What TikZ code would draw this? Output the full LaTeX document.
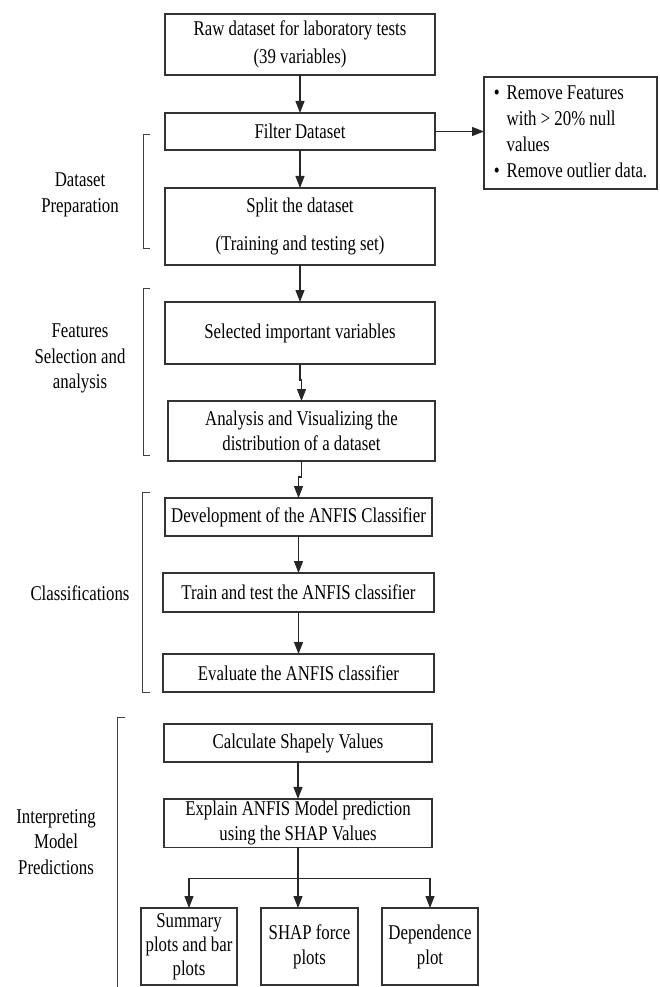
\documentclass[tikz,border=0pt]{standalone}
\usepackage{fontspec}
\setmainfont{Liberation Serif}[FakeStretch=0.8]
\usetikzlibrary{arrows.meta}
\begin{document}
\begin{tikzpicture}[x=1pt,y=-1pt,
  box/.style={draw=black!80, line width=1.1pt, fill=white, inner sep=2pt, outer sep=0pt, align=center, font=\fontsize{21}{25}\selectfont},
  lbl/.style={align=center, font=\fontsize{21}{25.5}\selectfont, inner sep=0pt},
  arr/.style={draw=black!85, line width=1.1pt, -{Triangle[length=12pt,width=9pt]}},
  conn/.style={draw=black!85, line width=1.1pt},
  brk/.style={draw=black!75, line width=1pt}]
\useasboundingbox (0,0) rectangle (659,987);

% main column
\node[box, minimum width=270pt, minimum height=61pt] (raw) at (300,44.5) {Raw dataset for laboratory tests\\[3pt](39 variables)};
\node[box, minimum width=270pt, minimum height=37pt] (filter) at (300,131.5) {Filter Dataset};
\node[box, minimum width=270pt, minimum height=77pt] (split) at (300,226.5) {Split the dataset\\[13pt](Training and testing set)};
\node[box, minimum width=270pt, minimum height=62pt] (sel) at (300,333) {Selected important variables};
\node[box, minimum width=267pt, minimum height=60pt] (ana) at (301.5,431) {Analysis and Visualizing the\\distribution of a dataset};
\node[box, minimum width=267pt, minimum height=38pt] (dev) at (298.5,517) {Development of the ANFIS Classifier};
\node[box, minimum width=271pt, minimum height=39pt] (train) at (298.5,592.5) {Train and test the ANFIS classifier};
\node[box, minimum width=271pt, minimum height=38pt] (eval) at (298.5,673) {Evaluate the ANFIS classifier};
\node[box, minimum width=268pt, minimum height=38pt] (shap) at (298,743) {Calculate Shapely Values};
\node[box, minimum width=268pt, minimum height=48pt] (expl) at (298,823) {Explain ANFIS Model prediction\\using the SHAP Values};

% bottom boxes
\node[box, minimum width=96pt, minimum height=77pt, font=\fontsize{21}{24}\selectfont] (summ) at (189,946.5) {Summary\\plots and bar\\plots};
\node[box, minimum width=97pt, minimum height=77pt] (force) at (309.5,946.5) {SHAP force\\plots};
\node[box, minimum width=96pt, minimum height=77pt] (dep) at (430,946.5) {Dependence\\plot};

% side box
\node[box, minimum width=173pt, minimum height=112pt, font=\fontsize{21}{26}\selectfont] (bul) at (570.5,133)
  {\begin{tabular}{@{}c@{\hspace{7pt}}l@{}}
   \textbullet & Remove Features\\
               & with > 20\% null\\
               & values\\
   \textbullet & Remove outlier data.
   \end{tabular}};

% section labels
\node[lbl] (lprep) at (80,195) {Dataset\\Preparation};
\node[lbl] (lfeat) at (80,358.5) {Features\\Selection and\\analysis};
\node[lbl] (lcls) at (80,593) {Classifications};
\node[lbl] (lint) at (56,842) {Interpreting\\Model\\Predictions};

% brackets
\draw[brk] (150,135) -- (143,135) -- (143,248) -- (150,248);
\draw[brk] (150,288) -- (143,288) -- (143,455) -- (150,455);
\draw[brk] (150,492) -- (142,492) -- (142,692) -- (150,692);
\draw[brk] (125,717) -- (117,717) -- (117,987);

% connectors
\draw[arr] (raw.south) -- (filter.north);
\draw[arr] (filter.east) -- (filter.east -| bul.west);
\draw[arr] (filter.south) -- (split.north);
\draw[arr] (split.south) -- (sel.north);
\draw[arr] (sel.south) -- ++(0,16) -| (ana.north);
\draw[arr] (ana.south) -- ++(0,16) -| (dev.north);
\draw[arr] (dev.south) -- (train.north);
\draw[arr] (train.south) -- (eval.north);
\draw[arr] (shap.south) -- (expl.north);
\draw[conn] (expl.south) -- ++(0,31) coordinate (hub);
\draw[arr] (hub) -| (summ.north);
\draw[arr] (hub) -- (hub |- force.north);
\draw[arr] (hub) -| (dep.north);
\end{tikzpicture}
\end{document}
